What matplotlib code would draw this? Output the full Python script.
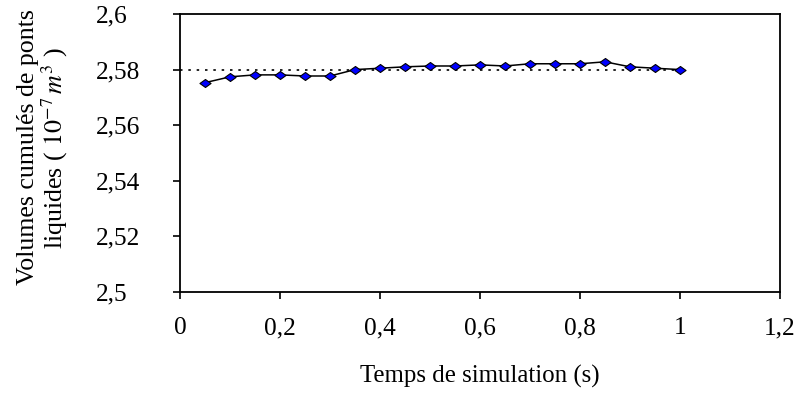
import matplotlib
matplotlib.use("Agg")
import matplotlib.pyplot as plt
from matplotlib.path import Path

# time steps (s) and cumulated liquid-bridge volumes (1e-7 m^3)
temps = [0.05, 0.10, 0.15, 0.20, 0.25, 0.30, 0.35, 0.40, 0.45, 0.50,
         0.55, 0.60, 0.65, 0.70, 0.75, 0.80, 0.85, 0.90, 0.95, 1.00]
volumes = [2.5753, 2.5774, 2.5781, 2.5781, 2.5777, 2.5777, 2.5800, 2.5805,
           2.5810, 2.5813, 2.5813, 2.5817, 2.5813, 2.5821, 2.5821, 2.5821,
           2.5828, 2.5810, 2.5805, 2.5800]
ref_x = [0.0, 1.0]
ref_y = [2.58, 2.58]

xticks = [0, 0.2, 0.4, 0.6, 0.8, 1.0, 1.2]
xticklabels = ['0', '0,2', '0,4', '0,6', '0,8', '1', '1,2']
yticks = [2.5, 2.52, 2.54, 2.56, 2.58, 2.6]
yticklabels = ['2,5', '2,52', '2,54', '2,56', '2,58', '2,6']

plt.rcParams['font.family'] = ['Liberation Serif', 'DejaVu Serif']
plt.rcParams['mathtext.fontset'] = 'stix'

# slightly flattened diamond, like the excel marker
diamond = Path([(-1, 0), (0, 0.72), (1, 0), (0, -0.72), (-1, 0)],
               [Path.MOVETO, Path.LINETO, Path.LINETO, Path.LINETO, Path.CLOSEPOLY])

fig = plt.figure(figsize=(7.97, 3.94), dpi=100)
ax = fig.add_axes([180/797, 1-292/394, 600/797, 278/394])

ax.plot(ref_x, ref_y, color='black', linestyle=(0, (1.5, 3.5)), linewidth=1.2)
ax.plot(temps, volumes, color='black', linewidth=1.1, marker=diamond,
        markersize=8, markerfacecolor='#0000ff', markeredgecolor='black',
        markeredgewidth=0.8)

ax.set_xlim(0, 1.2)
ax.set_ylim(2.5, 2.6)
ax.set_xticks(xticks)
ax.set_xticklabels(xticklabels)
ax.set_yticks(yticks)
ax.set_yticklabels(yticklabels, ha='left')
ax.tick_params(axis='both', direction='out', length=5, width=1.2, labelsize=18.3)
ax.tick_params(axis='y', pad=55.5)
ax.tick_params(axis='x', pad=13)
for s in ax.spines.values():
    s.set_linewidth(1.3)

ax.set_xlabel('Temps de simulation (s)', fontsize=17.9)
ax.xaxis.set_label_coords(0.5, -0.262)
ax.set_ylabel('Volumes cumulés de ponts\nliquides ( $10^{-7}\\,m^3$ )',
              fontsize=18.6, linespacing=1.05)
ax.yaxis.set_label_coords(-0.183, 0.52)

fig.savefig('out.png', dpi=100)
